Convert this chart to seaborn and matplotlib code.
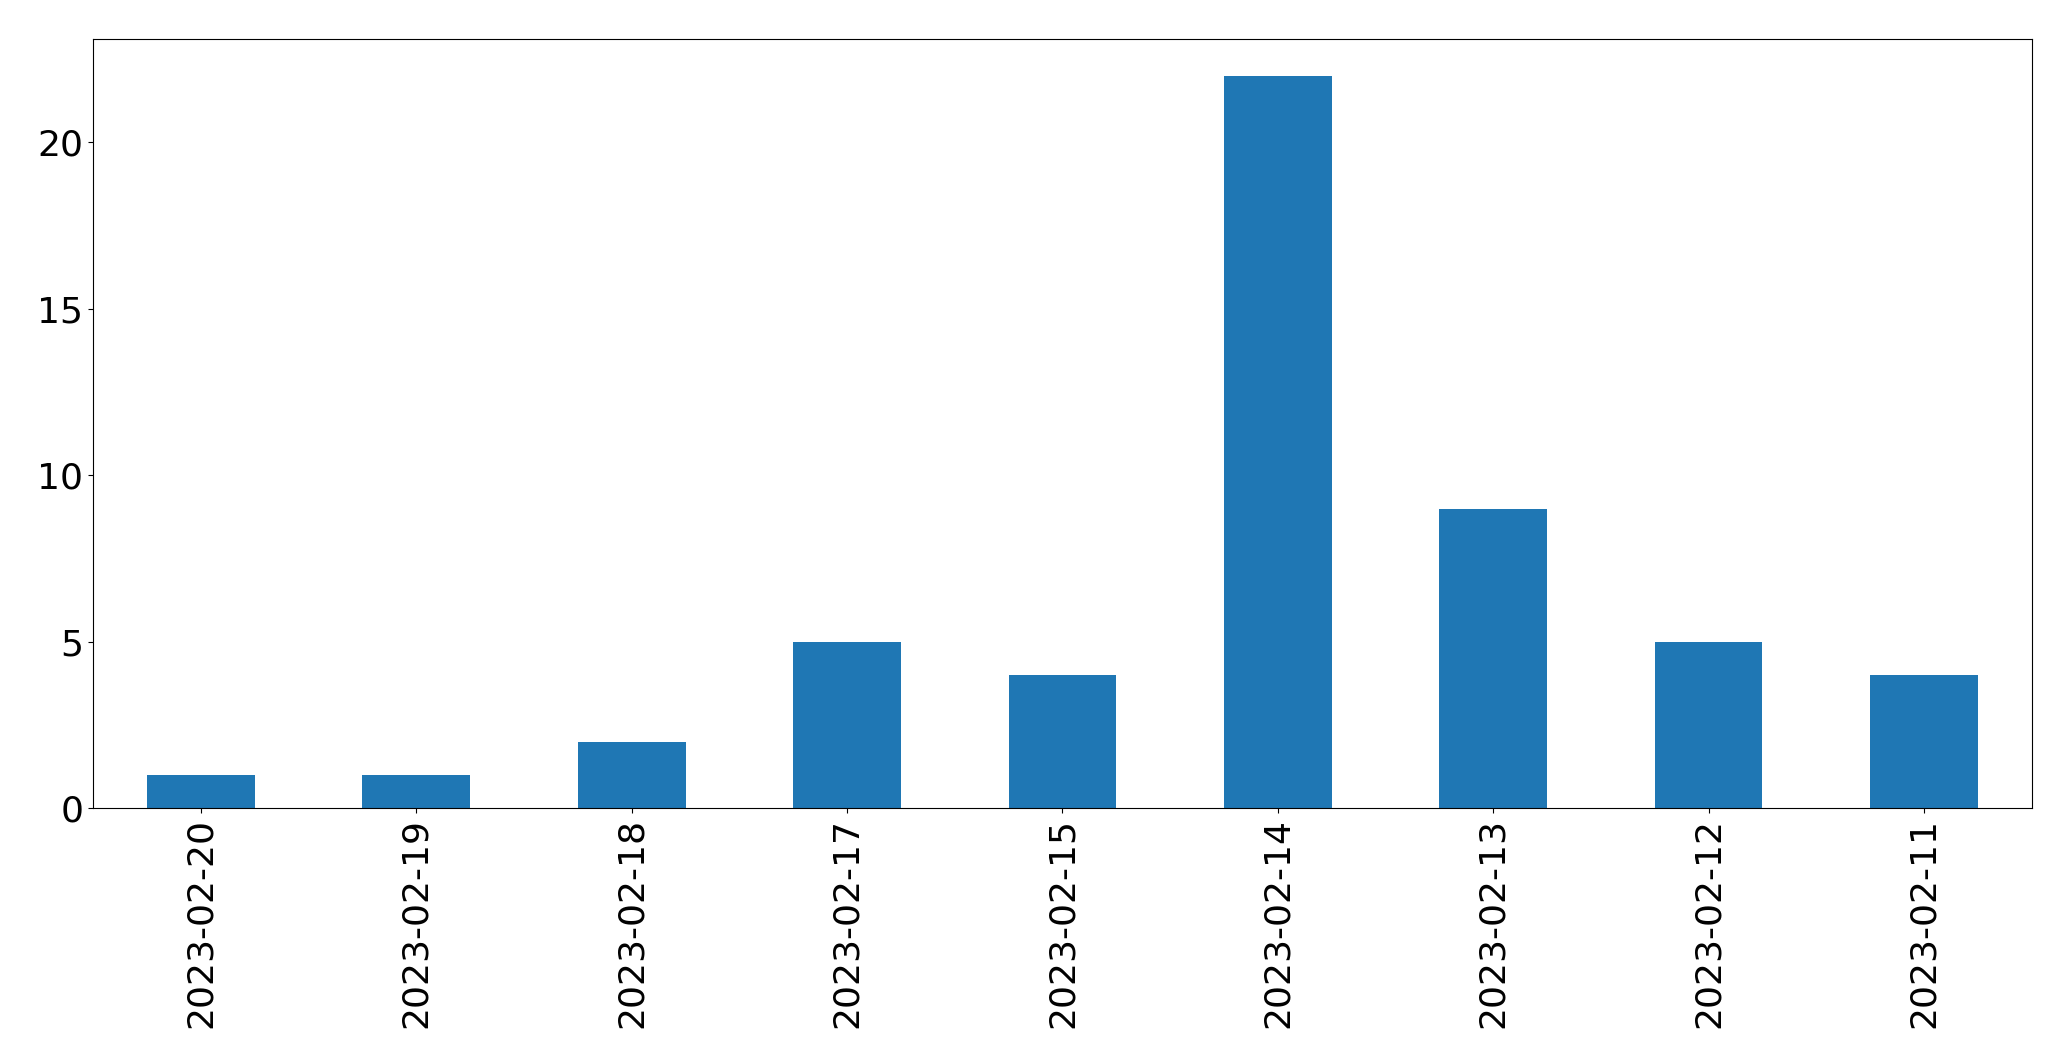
import matplotlib
matplotlib.use('Agg')
import matplotlib.pyplot as plt
import seaborn as sns
import pandas as pd

# tanggal dan jumlah per hari
dates = ['2023-02-20', '2023-02-19', '2023-02-18', '2023-02-17', '2023-02-15',
         '2023-02-14', '2023-02-13', '2023-02-12', '2023-02-11']
counts = [1, 1, 2, 5, 4, 22, 9, 5, 4]

df = pd.DataFrame({'date': dates, 'count': counts})

fig, ax = plt.subplots(figsize=(20.71, 10.61), dpi=100)
sns.barplot(data=df, x='date', y='count', color='#1f77b4', saturation=1,
            width=0.5, ax=ax)
ax.set_xlabel('')
ax.set_ylabel('')
ax.set_yticks([0, 5, 10, 15, 20])
ax.tick_params(axis='both', labelsize=26)
ax.tick_params(axis='x', labelrotation=90)
ax.set_xlim(-0.5, len(dates) - 0.5)
plt.subplots_adjust(left=0.045, right=0.981, top=0.963, bottom=0.238)
plt.savefig('out.png', dpi=100)
